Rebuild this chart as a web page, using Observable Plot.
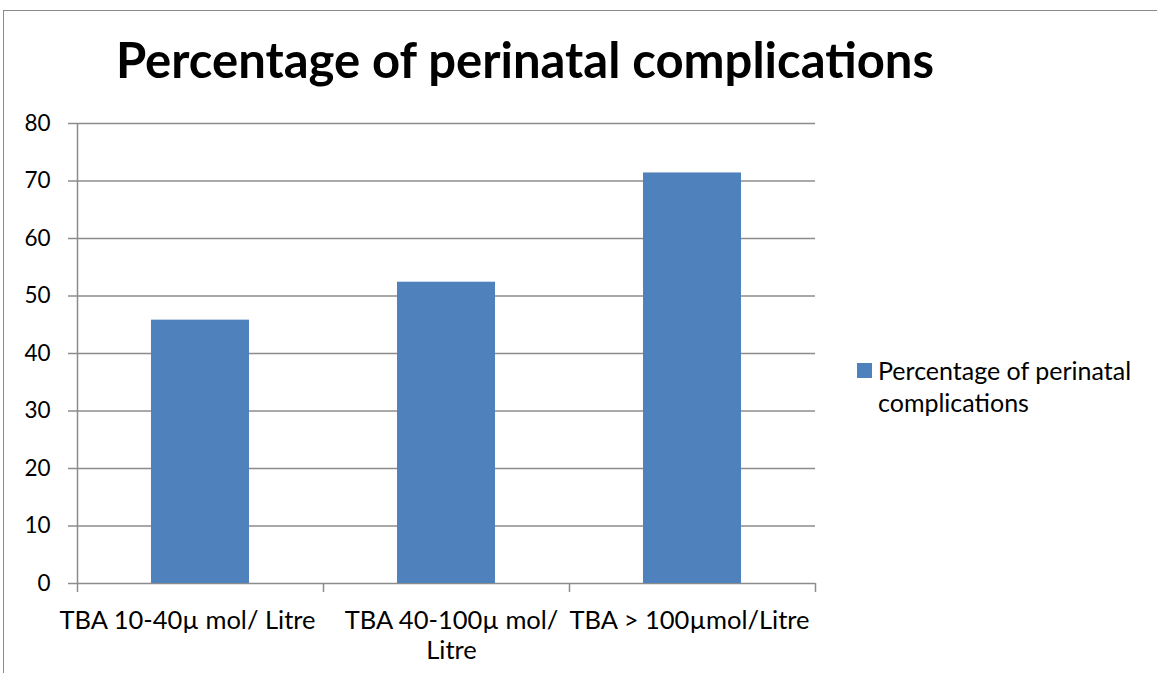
<!DOCTYPE html>
<html>
<head>
<meta charset="utf-8">
<script src="https://cdn.jsdelivr.net/npm/d3@7"></script>
<script src="https://cdn.jsdelivr.net/npm/@observablehq/plot@0.6"></script>
<style>
  html, body { margin: 0; padding: 0; background: #fff; }
  #page { position: relative; width: 1157px; height: 673px; overflow: hidden; font-family: Lato, "Open Sans", sans-serif; }
  #frame { position: absolute; left: 3px; top: 10px; width: 1300px; height: 800px; border: 1.5px solid #8a8a8a; box-sizing: border-box; }
  #title { position: absolute; left: 0; top: 31px; width: 1050px; text-align: center; font-weight: 700; font-size: 49px; line-height: 56px; color: #000; }
  #chart { position: absolute; left: 0; top: 0; }
  #legend { position: absolute; left: 857px; top: 354px; font-size: 25px; line-height: 32px; color: #000; }
  #legend .sw { display: inline-block; width: 15px; height: 15px; background: #4F81BD; position: absolute; left: 0; top: 9px; }
  #legend .tx { margin-left: 21px; }
</style>
</head>
<body>
<div id="page">
  <div id="frame"></div>
  <div id="chart"></div>
  <div id="title"></div>
  <div id="legend"><span class="sw"></span><div class="tx"></div></div>
</div>
<script>
const chartTitle = "Percentage of perinatal complications";
const legendLines = ["Percentage of perinatal", "complications"];
const categories = ["TBA 10-40µ mol/ Litre", "TBA 40-100µ mol/ Litre", "TBA > 100µmol/Litre"];
const tickLabels = ["TBA 10-40µ mol/ Litre", "TBA 40-100µ mol/\nLitre", "TBA > 100µmol/Litre"];
const labelShift = [-13, 5, -3];
const values = [45.8, 52.4, 71.4];
const yTicks = [0, 10, 20, 30, 40, 50, 60, 70, 80];

const data = categories.map((c, i) => ({category: c, value: values[i]}));

const W = 840, H = 673, ML = 77, MR = 25, MT = 123, MB = 90;
const padInner = 0.6, padOuter = 0.3;
const step = (W - ML - MR) / (categories.length - padInner + 2 * padOuter);
const gridColor = "#8c8c8c";
const fontFam = "Lato, 'Open Sans', sans-serif";

const chart = Plot.plot({
  width: W, height: H,
  marginLeft: ML, marginRight: MR, marginTop: MT, marginBottom: MB,
  style: {fontFamily: fontFam, fontSize: "22px", color: "#000", background: "transparent", overflow: "visible"},
  x: {domain: categories, paddingInner: padInner, paddingOuter: padOuter, label: null},
  y: {type: "linear", domain: [0, 80], label: null},
  marks: [
    Plot.ruleY(yTicks, {stroke: gridColor, strokeWidth: 1.5}),
    Plot.ruleX([categories[0]], {dx: -step / 2, y1: 0, y2: 80, stroke: gridColor, strokeWidth: 1.5}),
    Plot.barY(data, {x: "category", y: "value", fill: "#4F81BD"}),
    Plot.axisY({ticks: yTicks, tickSize: 9, tickPadding: 18, stroke: gridColor, strokeWidth: 1.5, strokeOpacity: 1, tickFormat: d => d, fontSize: 22.5}),
    Plot.ruleX(categories, {dx: -step / 2, y1: 0, y2: 0, insetTop: 9, stroke: gridColor, strokeWidth: 1.5}),
    Plot.ruleX([categories[categories.length - 1]], {dx: step / 2, y1: 0, y2: 0, insetTop: 9, stroke: gridColor, strokeWidth: 1.5}),
    ...categories.map((c, i) => Plot.axisX({ticks: [c], tickSize: 0, tickPadding: 24, dx: labelShift[i], tickFormat: () => tickLabels[i], fontSize: 25.5, lineHeight: 1.18}))
  ]
});
document.getElementById("chart").appendChild(chart);
document.getElementById("title").textContent = chartTitle;
document.querySelector("#legend .tx").innerHTML = legendLines.join("<br>");
</script>
</body>
</html>
